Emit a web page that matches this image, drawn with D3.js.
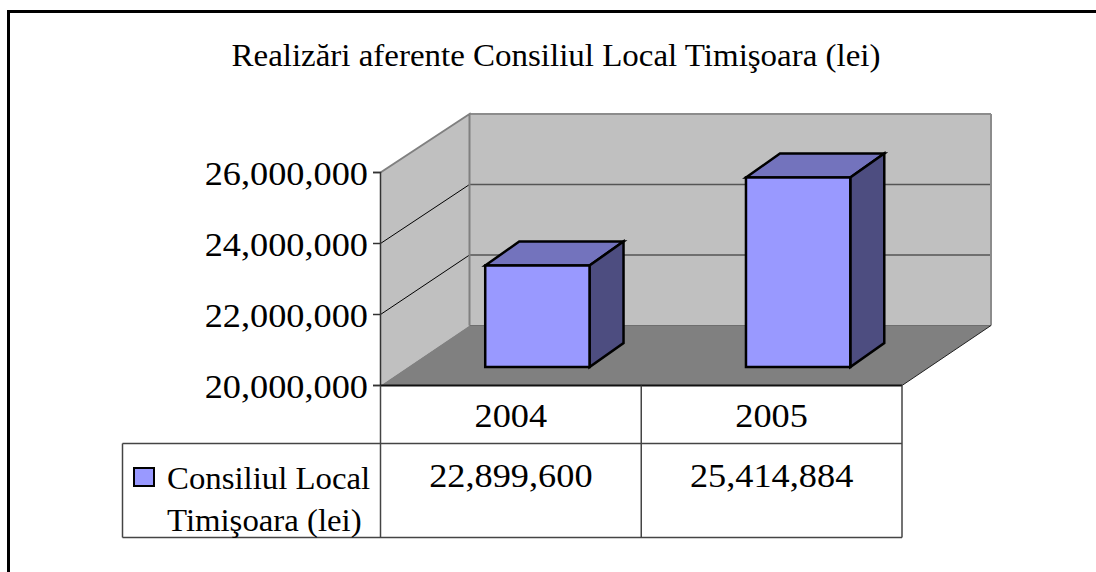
<!DOCTYPE html>
<html>
<head>
<meta charset="utf-8">
<script src="https://cdn.jsdelivr.net/npm/d3@7"></script>
<style>
	body { margin: 0; background: #fff; }
	svg { display: block; }
	text { font-family: "Liberation Serif", serif; fill: #000; }
</style>
</head>
<body>
<div id="chart-area"></div>
<script>
let width = 1096;
let height = 572;

let titleText = "Realizări aferente Consiliul Local Timişoara (lei)";
let categories = ["2004", "2005"];
let values = [22899600, 25414884];
let yTicks = [20000000, 22000000, 24000000, 26000000];
let legendLines = ["Consiliul Local", "Timişoara (lei)"];

let svg = d3.select("#chart-area")
	.append("svg")
	.attr("width", width)
	.attr("height", height);

// the reference text is hinted wider than the font, so stretch it a bit
function stretch(selection, factor) {
	selection.each(function() {
		d3.select(this)
			.attr("lengthAdjust", "spacingAndGlyphs")
			.attr("textLength", this.getComputedTextLength() * factor);
	});
}

// chart frame, only top and left are visible
svg.append("path")
	.attr("d", `M8.5,${height}V11.5H${width}`)
	.attr("fill", "none")
	.attr("stroke", "#000")
	.attr("stroke-width", 3);

svg.append("text")
	.attr("x", 556)
	.attr("y", 65.5)
	.attr("text-anchor", "middle")
	.style("font-size", "32px")
	.text(titleText)
	.call(stretch, 1.03);

// box depth of the 3d floor and of the bars
let depthX = 89;
let barDepthX = 34, barDepthY = -24;

let yScale = d3.scaleLinear().domain([20000000, 26000000]).range([385, 172]);
let xScale = d3.scaleBand().domain(categories).range([380.5, 902]);
// back wall and bars sit further back, so they get their own planes
let backYScale = d3.scaleLinear().domain([20000000, 26000000]).range([325.5, 114]);
let barYScale = d3.scaleLinear().domain([20000000, 26000000]).range([367, 157]);

let points = p => p.map(d => d.join(",")).join(" ");
let left = 380.5, right = 902, floorY = yScale(20000000) + 0.5, topY = yScale(26000000) + 0.5;
let backFloor = backYScale(20000000), backTop = backYScale(26000000);

// walls
svg.append("polygon")
	.attr("points", points([[left, topY], [left + depthX, backTop], [left + depthX, backFloor], [left, floorY]]))
	.attr("fill", "#c0c0c0");
svg.append("rect")
	.attr("x", left + depthX)
	.attr("y", backTop)
	.attr("width", right - left)
	.attr("height", backFloor - backTop)
	.attr("fill", "#c0c0c0");

// floor
svg.append("polygon")
	.attr("points", points([[left, floorY], [left + depthX, backFloor], [right + depthX, backFloor], [right, floorY]]))
	.attr("fill", "#808080");

// gridlines on both walls
let inner = yTicks.slice(1, -1);
svg.selectAll(".grid-side")
	.data(inner)
	.enter()
	.append("line")
	.attr("class", "grid-side")
	.attr("x1", left)
	.attr("y1", d => yScale(d) + 0.5)
	.attr("x2", left + depthX)
	.attr("y2", d => backYScale(d))
	.attr("stroke", "#000")
	.attr("stroke-width", 1);
svg.selectAll(".grid-back")
	.data(inner.concat([26000000]))
	.enter()
	.append("line")
	.attr("class", "grid-back")
	.attr("x1", left + depthX)
	.attr("y1", d => backYScale(d))
	.attr("x2", right + depthX)
	.attr("y2", d => backYScale(d))
	.attr("stroke", d => d === 26000000 ? "#8c8c8c" : "#555")
	.attr("stroke-width", d => d === 26000000 ? 2 : 1.5);

// wall outlines
svg.append("path")
	.attr("d", `M${left},${topY}L${left + depthX},${backTop}V${backFloor}`)
	.attr("fill", "none")
	.attr("stroke", "#808080")
	.attr("stroke-width", 2);
svg.append("path")
	.attr("d", `M${right + depthX},${backTop}V${backFloor}`)
	.attr("fill", "none")
	.attr("stroke", "#8c8c8c")
	.attr("stroke-width", 2);
svg.append("line")
	.attr("x1", left + depthX)
	.attr("y1", backFloor)
	.attr("x2", right + depthX)
	.attr("y2", backFloor)
	.attr("stroke", "#6e6e6e")
	.attr("stroke-width", 1);
svg.append("line")
	.attr("x1", right)
	.attr("y1", floorY)
	.attr("x2", right + depthX)
	.attr("y2", backFloor)
	.attr("stroke", "#222")
	.attr("stroke-width", 1);

// bars
let barWidth = xScale.bandwidth() * 0.4;
let barX = d => xScale(d) + xScale.bandwidth() / 2 + 26.5 - barWidth / 2;
let bars = svg.selectAll(".bar")
	.data(categories.map((c, i) => ({ category: c, value: values[i] })))
	.enter()
	.append("g")
	.attr("class", "bar")
	.attr("stroke", "#000")
	.attr("stroke-width", 2.5)
	.attr("stroke-linejoin", "miter");

bars.append("polygon")
	.attr("fill", "#7373bd")
	.attr("points", d => {
		let x = barX(d.category), y = barYScale(d.value);
		return points([[x, y], [x + barDepthX, y + barDepthY], [x + barWidth + barDepthX, y + barDepthY], [x + barWidth, y]]);
	});
bars.append("polygon")
	.attr("fill", "#4d4d80")
	.attr("points", d => {
		let x = barX(d.category) + barWidth, y = barYScale(d.value), y0 = barYScale(20000000);
		return points([[x, y], [x + barDepthX, y + barDepthY], [x + barDepthX, y0 + barDepthY], [x, y0]]);
	});
bars.append("rect")
	.attr("fill", "#9999ff")
	.attr("x", d => barX(d.category))
	.attr("y", d => barYScale(d.value))
	.attr("width", barWidth)
	.attr("height", d => barYScale(20000000) - barYScale(d.value));

// y axis
let yAxis = d3.axisLeft(yScale)
	.tickValues(yTicks)
	.tickFormat(d3.format(","))
	.tickSizeOuter(0)
	.tickSize(7)
	.tickPadding(5);
let yAxisGroup = svg.append("g")
	.attr("class", "y-axis")
	.attr("transform", "translate(380,0)")
	.call(yAxis);
yAxisGroup.selectAll("text")
	.attr("dy", "0.38em")
	.style("font-family", '"Liberation Serif", serif')
	.style("font-size", "33px")
	.call(stretch, 1.1);
yAxisGroup.selectAll("path, line").attr("stroke", "#333").attr("stroke-width", 1.5);

// data table under the chart
let tableLeft = 122.5, row1 = 443.5, row2 = 537.5;
let tableLines = [
	[left, floorY, right, floorY, "#111", 2],
	[tableLeft, row1, right, row1, "#444", 1.5],
	[tableLeft, row2, right, row2, "#444", 1.5],
	[tableLeft, row1, tableLeft, row2, "#444", 1.5],
	[left, floorY, left, row2, "#444", 1.5],
	[xScale(categories[1]), floorY, xScale(categories[1]), row2, "#444", 1.5],
	[right, floorY, right, row2, "#444", 1.5]
];
svg.selectAll(".table-line")
	.data(tableLines)
	.enter()
	.append("line")
	.attr("class", "table-line")
	.attr("x1", d => d[0])
	.attr("y1", d => d[1])
	.attr("x2", d => d[2])
	.attr("y2", d => d[3])
	.attr("stroke", d => d[4])
	.attr("stroke-width", d => d[5]);

svg.selectAll(".cat-label")
	.data(categories)
	.enter()
	.append("text")
	.attr("class", "cat-label")
	.attr("x", d => xScale(d) + xScale.bandwidth() / 2)
	.attr("y", 427)
	.attr("text-anchor", "middle")
	.style("font-size", "33px")
	.text(d => d)
	.call(stretch, 1.1);

svg.selectAll(".value-label")
	.data(values)
	.enter()
	.append("text")
	.attr("class", "value-label")
	.attr("x", (d, i) => xScale(categories[i]) + xScale.bandwidth() / 2)
	.attr("y", 487)
	.attr("text-anchor", "middle")
	.style("font-size", "33px")
	.text(d => d3.format(",")(d))
	.call(stretch, 1.1);

// legend key and label
svg.append("rect")
	.attr("x", 134)
	.attr("y", 468)
	.attr("width", 20)
	.attr("height", 18)
	.attr("fill", "#9999ff")
	.attr("stroke", "#000")
	.attr("stroke-width", 2);
svg.selectAll(".legend-label")
	.data(legendLines)
	.enter()
	.append("text")
	.attr("class", "legend-label")
	.attr("x", 167)
	.attr("y", (d, i) => 489 + i * 41.5)
	.style("font-size", "32px")
	.text(d => d)
	.call(stretch, 1.025);
</script>
</body>
</html>
